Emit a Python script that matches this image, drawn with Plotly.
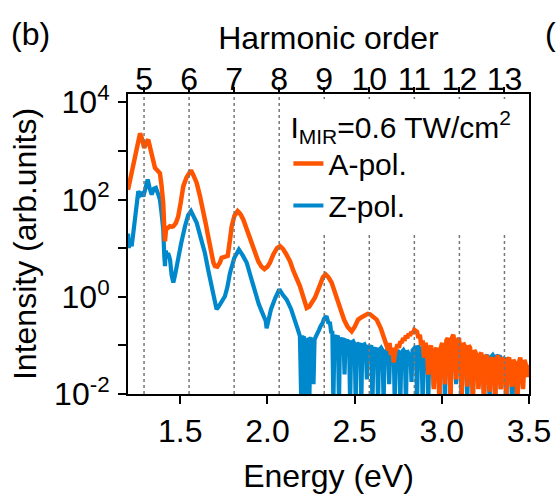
import numpy as np
import plotly.graph_objects as go

# ---------------- data ----------------
photon_energy_eV = 0.2584          # MIR photon energy (harmonic n at n*0.2584 eV)
harmonic_orders = [5, 6, 7, 8, 9, 10, 11, 12, 13]
energy_ticks = [1.5, 2.0, 2.5, 3.0, 3.5]
energy_range = [1.2, 3.5]
log_range = [-2, 4.17]
intensity_ticks = [1e-2, 1e-1, 1e0, 1e1, 1e2, 1e3, 1e4]
intensity_ticktext = ["10<sup>-2</sup>", "", "10<sup>0</sup>", "", "10<sup>2</sup>", "", "10<sup>4</sup>"]

# A-pol. spectrum: energy (eV) and log10(intensity)
a_pol_energy = [
    1.200, 1.215, 1.230, 1.245, 1.258, 1.269, 1.280, 1.293, 1.305, 1.316, 1.328, 1.345, 1.355, 1.365,
    1.375, 1.383, 1.392, 1.402, 1.408, 1.412, 1.418, 1.428, 1.440, 1.452, 1.460, 1.475, 1.488, 1.503,
    1.517, 1.535, 1.550, 1.561, 1.575, 1.594, 1.612, 1.632, 1.646, 1.660, 1.675, 1.690, 1.699, 1.712,
    1.727, 1.737, 1.755, 1.772, 1.784, 1.795, 1.810, 1.829, 1.845, 1.861, 1.885, 1.909, 1.928, 1.947,
    1.965, 1.982, 2.000, 2.014, 2.035, 2.055, 2.072, 2.090, 2.110, 2.129, 2.150, 2.170, 2.186, 2.205,
    2.225, 2.240, 2.255, 2.272, 2.288, 2.301, 2.318, 2.334, 2.350, 2.368, 2.390, 2.416, 2.440, 2.460,
    2.483, 2.500, 2.520, 2.540, 2.560, 2.575, 2.588, 2.605, 2.626, 2.650, 2.674,
    2.684, 2.692, 2.700, 2.708, 2.716, 2.724, 2.731, 2.738, 2.746, 2.754, 2.762, 2.770, 2.778, 2.786,
    2.794, 2.802, 2.810, 2.818, 2.826, 2.834, 2.842, 2.850, 2.858, 2.866, 2.874, 2.882, 2.890, 2.898,
    2.906, 2.914, 2.922, 2.930, 2.938, 2.946, 2.954, 2.962, 2.970, 2.978, 2.986, 2.994, 3.002, 3.010,
    3.018, 3.026, 3.034, 3.042, 3.050, 3.058, 3.066, 3.074, 3.082, 3.090, 3.098, 3.106, 3.114, 3.122,
    3.130, 3.138, 3.146, 3.154, 3.162, 3.170, 3.178, 3.186, 3.194, 3.202, 3.210, 3.218, 3.226, 3.234,
    3.242, 3.250, 3.258, 3.266, 3.274, 3.282, 3.290, 3.298, 3.306, 3.314, 3.322, 3.330, 3.338, 3.346,
    3.354, 3.362, 3.370, 3.378, 3.386, 3.394, 3.402, 3.410, 3.418, 3.426, 3.434, 3.442, 3.450, 3.458,
    3.466, 3.474, 3.482, 3.490, 3.500,
]
a_pol_log10 = [
    2.20, 2.45, 2.75, 3.00, 3.22, 3.36, 3.25, 3.06, 3.18, 3.23, 3.05, 2.82, 2.65, 2.61,
    2.58, 2.54, 2.30, 1.93, 1.40, 1.14, 1.38, 1.42, 1.45, 1.44, 1.45, 1.52, 1.65, 1.95,
    2.27, 2.45, 2.56, 2.60, 2.50, 2.34, 2.08, 1.79, 1.50, 1.24, 0.95, 0.70, 0.63, 0.62,
    0.70, 0.80, 0.82, 0.84, 1.15, 1.45, 1.66, 1.76, 1.70, 1.59, 1.35, 1.11, 0.90, 0.73,
    0.62, 0.57, 0.62, 0.70, 0.88, 1.00, 1.04, 0.98, 0.86, 0.73, 0.52, 0.36, 0.22, 0.00,
    -0.23, -0.20, -0.12, -0.02, 0.12, 0.25, 0.40, 0.46, 0.40, 0.29, 0.05, -0.23, -0.48, -0.62,
    -0.71, -0.62, -0.47, -0.42, -0.38, -0.35, -0.36, -0.40, -0.47, -0.65, -0.88,
    -1.00, -1.10, -0.95, -1.20, -1.05, -1.35, -1.15, -1.05, -0.98, -1.05, -0.92, -0.95, -0.85, -0.90,
    -0.80, -0.85, -0.76, -0.80, -0.72, -0.76, -0.68, -0.70, -0.72, -0.85, -0.78, -1.00, -0.90, -1.25,
    -0.95, -1.05, -1.60, -1.10, -1.00, -1.30, -1.90, -1.10, -1.05, -1.40, -2.10, -1.05, -0.95, -1.20,
    -1.80, -0.90, -0.85, -1.10, -2.10, -0.85, -0.78, -1.00, -1.70, -0.90, -0.85, -1.15, -2.00, -0.95,
    -1.00, -1.25, -1.85, -1.00, -1.05, -1.35, -2.10, -1.10, -1.15, -1.40, -1.90, -1.20, -1.15, -1.45,
    -2.10, -1.25, -1.20, -1.50, -1.95, -1.30, -1.25, -1.55, -2.10, -1.30, -1.20, -1.50, -1.90, -1.25,
    -1.30, -1.55, -2.10, -1.30, -1.25, -1.55, -1.85, -1.30, -1.35, -1.60, -2.10, -1.35, -1.25, -1.55,
    -1.90, -1.30, -1.40, -1.65, -1.40,
]

# Z-pol. spectrum: energy (eV) and log10(intensity)
z_pol_energy = [
    1.200, 1.205, 1.210, 1.215, 1.221, 1.230, 1.240, 1.250, 1.259, 1.270, 1.280, 1.288, 1.300, 1.313,
    1.325, 1.336, 1.348, 1.360, 1.372, 1.383, 1.393, 1.402, 1.408, 1.412, 1.417, 1.422, 1.430, 1.441,
    1.450, 1.460, 1.470, 1.480, 1.488, 1.505, 1.527, 1.545, 1.561, 1.578, 1.594, 1.618, 1.641, 1.660,
    1.680, 1.695, 1.708, 1.720, 1.737, 1.756, 1.770, 1.785, 1.810, 1.836, 1.858, 1.881, 1.905, 1.928,
    1.950, 1.967, 1.980, 1.990, 1.995, 2.000, 2.010, 2.020, 2.045, 2.068, 2.090, 2.110, 2.135, 2.158,
    2.172, 2.186,
    2.190, 2.194, 2.200, 2.210, 2.216, 2.222, 2.234, 2.240, 2.246, 2.258, 2.264, 2.270,
    2.280, 2.288, 2.296, 2.305, 2.315, 2.325, 2.339, 2.350, 2.358, 2.366,
    2.372, 2.378, 2.384, 2.396, 2.404, 2.410, 2.416, 2.428, 2.436, 2.442, 2.448, 2.460, 2.468, 2.474,
    2.480, 2.492, 2.500, 2.506, 2.512, 2.524, 2.532, 2.538, 2.544, 2.556, 2.564, 2.570, 2.576, 2.588,
    2.596, 2.602, 2.608, 2.620, 2.628, 2.634, 2.640, 2.652, 2.660, 2.666, 2.672, 2.684, 2.692, 2.698,
    2.704, 2.716, 2.724, 2.730, 2.736, 2.748, 2.756, 2.762, 2.768, 2.780, 2.788, 2.794, 2.800, 2.812,
    2.820, 2.826, 2.832, 2.844, 2.852, 2.858, 2.864, 2.876, 2.884, 2.890, 2.896, 2.908, 2.916, 2.922,
    2.928, 2.940, 2.948, 2.954, 2.960, 2.972, 2.980, 2.986, 2.992, 3.004, 3.012, 3.018, 3.024, 3.036,
    3.044, 3.050, 3.056, 3.068, 3.076, 3.082, 3.088, 3.100, 3.108, 3.114, 3.120, 3.132, 3.140, 3.146,
    3.152, 3.164, 3.172, 3.178, 3.184, 3.196, 3.204, 3.210, 3.216, 3.228, 3.236, 3.242, 3.248, 3.260,
    3.268, 3.274, 3.280, 3.292, 3.300, 3.306, 3.312, 3.324, 3.332, 3.338, 3.344, 3.356, 3.364, 3.370,
    3.376, 3.388, 3.396, 3.402, 3.408, 3.418, 3.424, 3.430,
]
z_pol_log10 = [
    1.30, 1.00, 1.20, 1.05, 1.04, 1.30, 1.59, 1.95, 2.17, 2.10, 2.15, 2.06, 2.25, 2.41,
    2.22, 2.10, 2.22, 2.24, 2.12, 2.00, 1.70, 1.38, 0.85, 0.63, 0.95, 0.83, 0.90, 0.77,
    0.45, 0.29, 0.45, 0.65, 0.77, 1.10, 1.45, 1.68, 1.76, 1.65, 1.52, 1.20, 0.90, 0.55,
    0.22, -0.05, -0.26, -0.20, -0.08, 0.01, 0.20, 0.49, 0.80, 0.97, 0.85, 0.70, 0.40, 0.08,
    -0.15, -0.30, -0.45, -0.50, -0.65, -0.55, -0.40, -0.26, -0.02, 0.15, 0.03, -0.06, -0.25, -0.47,
    -0.65, -0.81,
    -1.30, -2.20, -0.85, -0.82, -2.20, -0.90, -0.88, -2.20, -0.85, -0.90, -1.80, -0.88,
    -0.80, -0.75, -0.68, -0.60, -0.55, -0.45, -0.40, -0.55, -0.52, -0.75,
    -0.70, -2.20, -0.80, -0.85, -0.80, -2.20, -0.85, -0.90, -0.85, -1.60, -0.90, -0.92, -0.90, -2.20,
    -0.95, -0.92, -0.98, -2.20, -0.95, -1.00, -0.95, -2.20, -1.00, -0.98, -1.05, -1.70, -1.00, -1.05,
    -1.00, -2.20, -1.05, -1.10, -1.05, -2.20, -1.10, -1.05, -1.10, -2.20, -1.10, -1.15, -1.10, -1.80,
    -1.10, -1.15, -1.10, -2.20, -1.15, -1.10, -1.20, -2.20, -1.15, -1.10, -1.15, -2.20, -1.10, -1.20,
    -1.15, -1.75, -1.10, -1.05, -1.10, -2.20, -1.00, -1.10, -1.15, -2.20, -1.15, -1.20, -1.15, -2.20,
    -1.20, -1.15, -1.20, -1.85, -1.15, -1.20, -1.10, -2.20, -1.15, -1.20, -1.15, -2.20, -1.10, -1.05,
    -1.10, -2.20, -1.05, -1.00, -1.10, -1.80, -1.10, -1.15, -1.10, -2.20, -1.15, -1.10, -1.20, -2.20,
    -1.15, -1.20, -1.15, -2.20, -1.20, -1.25, -1.20, -1.85, -1.20, -1.25, -1.20, -2.20, -1.25, -1.20,
    -1.30, -2.20, -1.25, -1.20, -1.25, -2.20, -1.20, -1.25, -1.20, -1.90, -1.25, -1.30, -1.25, -2.20,
    -1.30, -1.35, -1.30, -2.20, -1.35, -1.40, -1.35, -2.20,
]

ORANGE = "#ff5500"
BLUE = "#0088cc"
FONT = "Liberation Sans, Arial, sans-serif"
FS = 32

# ---------------- figure ----------------
fig = go.Figure()

# dotted harmonic markers on the harmonic-order axis
hx, hy = [], []
for n in harmonic_orders:
    hx += [n, n, None]
    hy += [10 ** log_range[0], 10 ** log_range[1], None]
fig.add_trace(go.Scatter(x=hx, y=hy, xaxis="x2", yaxis="y", mode="lines",
                         line=dict(color="#777777", width=1.5, dash="dot"),
                         showlegend=False, hoverinfo="skip"))

fig.add_trace(go.Scatter(x=z_pol_energy, y=10 ** np.array(z_pol_log10), mode="lines",
                         name="Z-pol.", line=dict(color=BLUE, width=4.2), legendrank=2))
fig.add_trace(go.Scatter(x=a_pol_energy, y=10 ** np.array(a_pol_log10), mode="lines",
                         name="A-pol.", line=dict(color=ORANGE, width=4.5), legendrank=1))

axis_common = dict(showline=True, linewidth=2, linecolor="black", ticks="outside",
                   tickwidth=2, tickcolor="black", showgrid=False, zeroline=False,
                   automargin=False,
                   tickfont=dict(family=FONT, size=FS, color="black"))

fig.update_layout(
    width=557, height=500,
    margin=dict(l=128, r=28, t=94, b=106),
    paper_bgcolor="white", plot_bgcolor="white",
    font=dict(family=FONT, size=FS, color="black"),
    xaxis=dict(range=energy_range, tickvals=energy_ticks, tickformat=".1f", ticklen=8,
               title=dict(text="Energy (eV)", font=dict(size=FS), standoff=16), **axis_common),
    xaxis2=dict(overlaying="x", side="top", anchor="y",
                range=[energy_range[0] / photon_energy_eV, energy_range[1] / photon_energy_eV],
                tickvals=harmonic_orders, ticklen=5, ticklabelstandoff=-16,
                title=dict(text="Harmonic order", font=dict(size=FS), standoff=2), **axis_common),
    yaxis=dict(type="log", range=log_range, tickvals=intensity_ticks, ticktext=intensity_ticktext,
               ticklen=8, mirror=True, ticklabelstandoff=2,
               title=dict(text="Intensity (arb.units)", font=dict(size=FS), standoff=8), **axis_common),
    legend=dict(x=0.40, y=0.985, xanchor="left", yanchor="top", bgcolor="white",
                borderwidth=0, font=dict(family=FONT, size=30, color="black"),
                title=dict(text="I<sub>MIR</sub>=0.6 TW/cm<sup>2</sup>",
                           font=dict(family=FONT, size=30, color="black")),
                tracegroupgap=0, itemwidth=30),
    annotations=[
        dict(text="(b)", xref="paper", yref="paper", x=-0.297, y=1.2, xanchor="left",
             yanchor="middle", showarrow=False, font=dict(family=FONT, size=FS)),
        dict(text="(", xref="paper", yref="paper", x=1.036, y=1.2, xanchor="left",
             yanchor="middle", showarrow=False, font=dict(family=FONT, size=FS)),
    ],
    showlegend=True,
)

fig.write_html("out.html")
